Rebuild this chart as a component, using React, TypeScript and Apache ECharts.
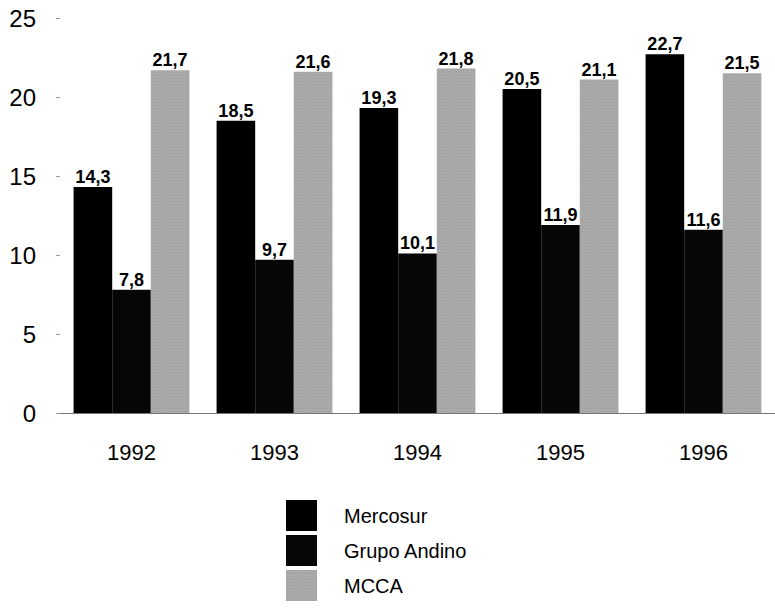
import React, { useEffect, useRef } from "react";
import * as echarts from "echarts";

const years = ["1992", "1993", "1994", "1995", "1996"];
const mercosur = [14.3, 18.5, 19.3, 20.5, 22.7];
const grupoAndino = [7.8, 9.7, 10.1, 11.9, 11.6];
const mcca = [21.7, 21.6, 21.8, 21.1, 21.5];
const seriesNames = ["Mercosur", "Grupo Andino", "MCCA"];

const FONT = "'Liberation Sans', Arial, sans-serif";

export default function App() {
  const ref = useRef<HTMLDivElement>(null);
  useEffect(() => {
    if (!ref.current) return;
    const chart = echarts.init(ref.current, null, { renderer: "svg" });
    const label = {
      show: true,
      position: "top" as const,
      distance: 1,
      color: "#000",
      fontFamily: FONT,
      fontSize: 18,
      fontWeight: "bold" as const,
      backgroundColor: "#fff",
      padding: [1, 1, 0, 1],
      formatter: (p: any) => String(p.value).replace(".", ","),
    };
    chart.setOption({
      animation: false,
      backgroundColor: "#fff",
      grid: { left: 60, top: 18, width: 722, height: 395, containLabel: false },
      legend: {
        orient: "vertical",
        left: 286,
        top: 500,
        height: 110,
        padding: 0,
        itemWidth: 31,
        itemHeight: 31,
        itemGap: 4,
        icon: "rect",
        data: seriesNames,
        textStyle: { fontFamily: FONT, fontSize: 20, color: "#000", padding: [0, 0, 0, 22] },
      },
      xAxis: {
        type: "category",
        data: years,
        axisLine: { show: true, lineStyle: { color: "#777", width: 1 } },
        axisTick: { show: false },
        axisLabel: { fontFamily: FONT, fontSize: 22, color: "#000", margin: 28 },
      },
      yAxis: {
        type: "value",
        min: 0,
        max: 25,
        interval: 5,
        axisLine: { show: false },
        axisTick: { show: true, length: 6, lineStyle: { color: "#999", type: "dashed" } },
        splitLine: { show: false },
        axisLabel: { fontFamily: FONT, fontSize: 24, color: "#000", margin: 24 },
      },
      series: [
        {
          name: seriesNames[0],
          type: "bar",
          data: mercosur,
          barGap: "0%",
          barCategoryGap: "19%",
          itemStyle: { color: "#000" },
          label,
        },
        {
          name: seriesNames[1],
          type: "bar",
          data: grupoAndino,
          itemStyle: { color: "#060606" },
          label,
        },
        {
          name: seriesNames[2],
          type: "bar",
          data: mcca,
          itemStyle: {
            color: "#a9a9a9",
            decal: {
              symbol: "rect",
              symbolSize: 0.6,
              color: "rgba(60,60,60,0.35)",
              dashArrayX: [1, 2],
              dashArrayY: [1, 2],
              rotation: 0,
            },
          },
          label,
        },
      ],
    });
    return () => chart.dispose();
  }, []);
  return <div ref={ref} style={{ width: 775, height: 610, position: "absolute", left: 0, top: 0 }} />;
}
